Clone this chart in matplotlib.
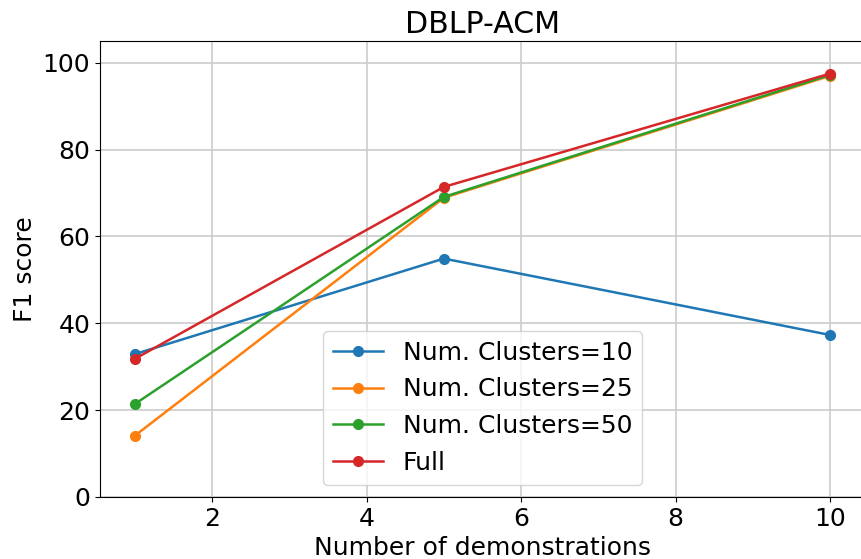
import matplotlib
matplotlib.use("Agg")
import matplotlib.pyplot as plt

demos = [1, 5, 10]
clusters10 = [32.9, 54.9, 37.3]
clusters25 = [14.1, 68.9, 97.0]
clusters50 = [21.4, 69.1, 97.2]
full = [31.8, 71.4, 97.5]

plt.rcParams["font.size"] = 18
fig = plt.figure(figsize=(8.61, 5.59), dpi=100)
ax = fig.add_axes([100 / 861, 62 / 559, 765 / 861, 456 / 559])

ax.plot(demos, clusters10, marker="o", lw=1.8, ms=7, label="Num. Clusters=10")
ax.plot(demos, clusters25, marker="o", lw=1.8, ms=7, label="Num. Clusters=25")
ax.plot(demos, clusters50, marker="o", lw=1.8, ms=7, label="Num. Clusters=50")
ax.plot(demos, full, marker="o", lw=1.8, ms=7, label="Full")

ax.set_xlim(0.55, 10.45)
ax.set_ylim(0, 105)
ax.set_xticks([2, 4, 6, 8, 10])
ax.grid(True, color="#cccccc", lw=1.2)
ax.set_title("DBLP-ACM")
ax.set_xlabel("Number of demonstrations")
ax.set_ylabel("F1 score")
ax.legend(loc="lower center")

fig.savefig("out.png", dpi=100)
